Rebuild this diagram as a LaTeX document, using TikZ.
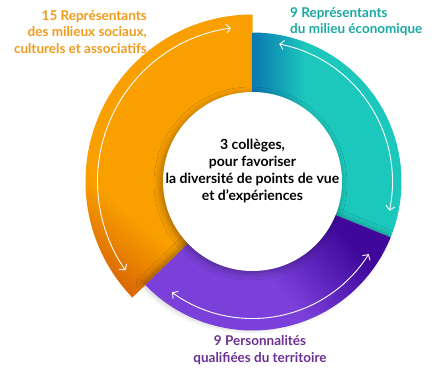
\documentclass[tikz,border=0pt]{standalone}
\usepackage{fontspec}
\setmainfont{Lato}
\usetikzlibrary{arrows.meta, shadows.blur}

\definecolor{ora}{HTML}{F9A000}
\definecolor{oradark}{HTML}{D25A06}
\definecolor{tealc}{HTML}{1CC8BC}
\definecolor{tealdark}{HTML}{0A78B2}
\definecolor{purp}{HTML}{7B40DA}
\definecolor{purpdark}{HTML}{3F089B}
\definecolor{oratext}{HTML}{F39A1A}
\definecolor{tealtext}{HTML}{19A9A1}
\definecolor{purptext}{HTML}{6C2F93}

\pgfdeclareverticalshading{orangeshade}{100bp}{color(0bp)=(oradark); color(18bp)=(oradark); color(35bp)=(ora); color(100bp)=(ora)}
\pgfdeclarehorizontalshading{tealshade}{100bp}{color(0bp)=(tealdark); color(25bp)=(tealdark); color(42bp)=(tealc); color(100bp)=(tealc)}
\pgfdeclareverticalshading{purpleshade}{100bp}{color(0bp)=(purp); color(50bp)=(purp); color(72bp)=(purpdark); color(100bp)=(purpdark)}

\tikzstyle{grouptext} = [font=\bfseries\fontsize{13.5}{16.5}\selectfont, inner sep=0pt]
\tikzstyle{centretext} = [font=\bfseries\fontsize{14}{17.3}\selectfont, align=center, inner sep=0pt]
\tikzstyle{core} = [circle, fill=white, minimum size=179pt, inner sep=0pt, blur shadow={shadow xshift=-2pt, shadow yshift=-2pt, shadow blur radius=7pt, shadow opacity=35}]
\tikzstyle{arrow} = [white, line width=0.9pt, {Straight Barb[length=4pt,width=9pt]}-{Straight Barb[length=4pt,width=9pt]}]

\begin{document}
\begin{tikzpicture}[x=1pt, y=1pt]
\useasboundingbox (0,0) rectangle (441,-371);

\begin{scope}[shift={(252.5,-181.5)}]
% the three colleges
\path[shading=orangeshade, shading angle=-40] (90:167) arc[start angle=90, end angle=224, radius=167] -- (224:80) arc[start angle=224, end angle=90, radius=80] -- cycle;
\path[shading=tealshade] (90:149) arc[start angle=90, end angle=-22, radius=149] -- (-22:80) arc[start angle=-22, end angle=90, radius=80] -- cycle;
\path[shading=purpleshade, shading angle=-50, blur shadow={shadow xshift=-3pt, shadow yshift=2pt, shadow blur radius=6pt, shadow opacity=30}] (224:149) arc[start angle=224, end angle=338, radius=149] -- (338:80) arc[start angle=338, end angle=224, radius=80] -- cycle;

\node (core) [core] at (0,0) {};

\draw [arrow] (98:155) arc[start angle=98, end angle=215, radius=155];
\draw [arrow] (79:140) arc[start angle=79, end angle=-12, radius=140];
\draw [arrow] (234:137) arc[start angle=234, end angle=328, radius=137];
\end{scope}

\node (colleges) [centretext] at (252.5,-171) {3 collèges,\\pour favoriser\\la diversité de points de vue\\et d’expériences};

\node (social) [grouptext, text=oratext, align=right, anchor=east] at (147,-32) {15 Représentants\\des milieux sociaux,\\culturels et associatifs};
\node (eco) [grouptext, text=tealtext, align=left, anchor=west] at (290,-21.5) {9 Représentants\\du milieu économique};
\node (territoire) [grouptext, text=purptext, align=center] at (260,-350) {9 Personnalités\\qualifiées du territoire};

\end{tikzpicture}
\end{document}
